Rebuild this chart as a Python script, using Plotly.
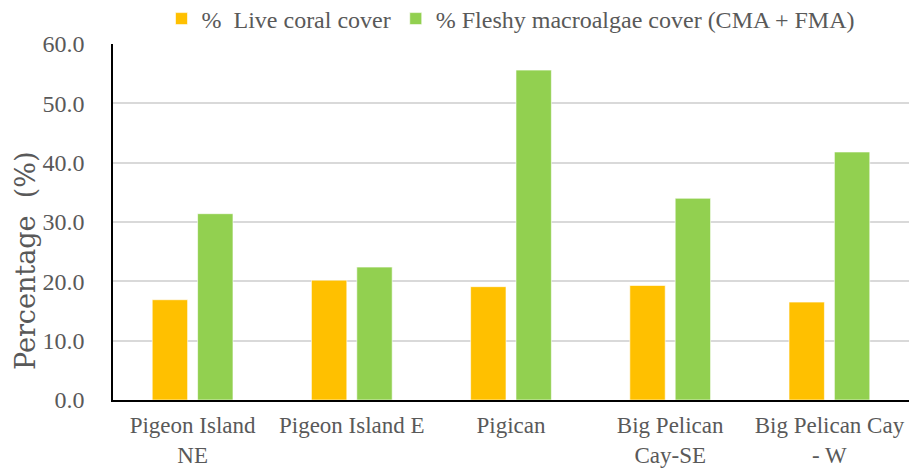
import plotly.graph_objects as go

# Survey sites along the x axis (line breaks as printed under the bars)
sites = [
    "Pigeon Island<br>NE",
    "Pigeon Island E",
    "Pigican",
    "Big Pelican<br>Cay-SE",
    "Big Pelican Cay<br>- W",
]

# Percent cover per site
live_coral = [16.9, 20.2, 19.1, 19.3, 16.5]
fleshy_macroalgae = [31.4, 22.4, 55.6, 34.0, 41.8]

series_names = ["%  Live coral cover", "% Fleshy macroalgae cover (CMA + FMA)"]
y_ticks = [0, 10, 20, 30, 40, 50, 60]

FONT = "'Liberation Serif', serif"
TITLE_FONT = "'DejaVu Serif', serif"
TEXT_GREY = "#595959"

fig = go.Figure()
fig.add_trace(go.Bar(
    x=sites, y=live_coral, name=series_names[0],
    marker=dict(color="#FFC000", line=dict(color="rgba(255,255,255,0.6)", width=1)),
))
fig.add_trace(go.Bar(
    x=sites, y=fleshy_macroalgae, name=series_names[1],
    marker=dict(color="#92D050", line=dict(color="rgba(255,255,255,0.6)", width=1)),
))

# Vertical axis title, set a little below the middle of the plot
fig.add_annotation(
    text="Percentage  (%)", textangle=-90, showarrow=False,
    xref="paper", yref="paper", x=-113 / 796 + 25 / 796, xanchor="center",
    y=(400 - 261) / 356, yanchor="middle",
    font=dict(family=TITLE_FONT, size=27, color=TEXT_GREY),
)

fig.update_layout(
    width=909, height=469,
    margin=dict(l=113, r=0, t=44, b=69, autoexpand=False),
    paper_bgcolor="white", plot_bgcolor="white",
    barmode="group", bargap=0.43, bargroupgap=0.22,
    font=dict(family=FONT, size=24, color=TEXT_GREY),
    showlegend=True,
    legend=dict(
        orientation="h", x=0.5, xanchor="center",
        y=1 + 25 / 356, yanchor="middle",
        font=dict(family=FONT, size=24, color=TEXT_GREY),
        itemwidth=30, traceorder="normal",
        bgcolor="rgba(0,0,0,0)",
    ),
    xaxis=dict(
        showline=True, linecolor="black", linewidth=2,
        ticks="", showgrid=False, ticklabelstandoff=3,
        tickfont=dict(family=FONT, size=23, color=TEXT_GREY),
    ),
    yaxis=dict(
        range=[0, 60], tickvals=y_ticks, tickformat=".1f",
        showline=True, linecolor="black", linewidth=1.5,
        showgrid=True, gridcolor="#d9d9d9", gridwidth=2,
        zeroline=False, ticks="", ticklabelstandoff=22,
        tickfont=dict(family=FONT, size=24, color=TEXT_GREY),
    ),
)

fig.write_html("out.html")
